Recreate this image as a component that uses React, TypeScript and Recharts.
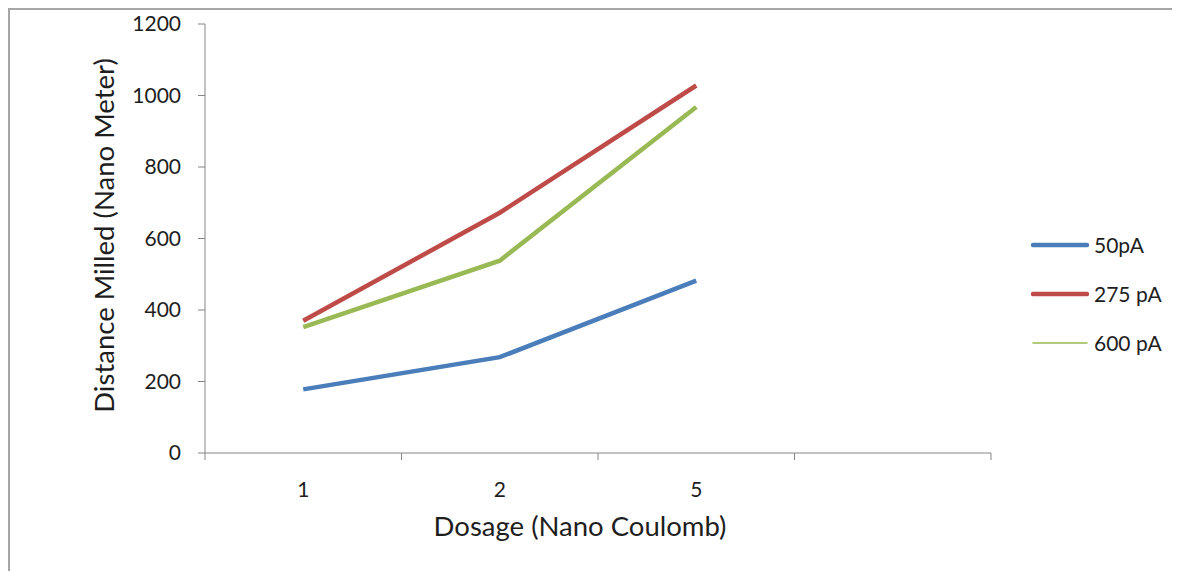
import React from "react";
import { LineChart, Line, XAxis, YAxis, Legend, Label } from "recharts";

const categories = ["1", "2", "5", ""];
const yTicks = [0, 200, 400, 600, 800, 1000, 1200];
const pa50 = [178, 268, 482];
const pa275 = [370, 672, 1028];
const pa600 = [352, 538, 968];

const SERIES = [
    { key: "pa50", name: "50pA", color: "#4a7ebb", width: 4.5, legendWidth: 4.5 },
    { key: "pa275", name: "275 pA", color: "#be4b48", width: 4.5, legendWidth: 4.5 },
    { key: "pa600", name: "600 pA", color: "#98b954", width: 4.5, legendWidth: 1.5 },
];

const data = categories.map((c, i) => ({
    pos: i + 0.5,
    cat: c,
    pa50: pa50[i] ?? null,
    pa275: pa275[i] ?? null,
    pa600: pa600[i] ?? null,
}));

const FONT = "Lato, 'Open Sans', sans-serif";
const AXIS = "#868686";
const TEXT = "#1e1e1e";
const slots = categories.map((_, i) => i).concat(categories.length);
const labelTicks = categories.map((_, i) => i + 0.5);

function LegendBox() {
    return (
        <div style={{ fontFamily: FONT, fontSize: 21, color: TEXT }}>
            {SERIES.map((s) => (
                <div key={s.key} style={{ display: "flex", alignItems: "center", height: 49, whiteSpace: "nowrap" }}>
                    <svg width={58} height={10} style={{ marginRight: 5 }}>
                        <line x1={2} x2={56} y1={5} y2={5} stroke={s.color} strokeWidth={s.legendWidth} strokeLinecap="round" />
                    </svg>
                    <span>{s.name}</span>
                </div>
            ))}
        </div>
    );
}

export default function App() {
    return (
        <div style={{ width: 1172, height: 563, overflow: "hidden" }}>
            <style>{"html,body{overflow:hidden;background:#fff}"}</style>
            <div style={{ width: 1250, height: 600, borderTop: "2px solid #a6a6a6", borderLeft: "2px solid #a6a6a6", background: "#fff" }}>
                <LineChart width={1170} height={561} data={data} margin={{ top: 14, right: 189, left: 85, bottom: 30 }}>
                    <XAxis
                        xAxisId="grid"
                        dataKey="pos"
                        type="number"
                        domain={[0, categories.length]}
                        ticks={slots}
                        interval={0}
                        tickFormatter={() => ""}
                        height={8}
                        stroke={AXIS}
                        tickSize={7}
                    />
                    <XAxis
                        xAxisId="label"
                        dataKey="pos"
                        type="number"
                        domain={[0, categories.length]}
                        ticks={labelTicks}
                        interval={0}
                        tickFormatter={(v: number) => categories[Math.floor(v)]}
                        height={80}
                        axisLine={false}
                        tickLine={false}
                        tickSize={0}
                        tickMargin={21}
                        tick={{ fill: TEXT, fontSize: 21, fontFamily: FONT }}
                    >
                        <Label value="Dosage (Nano Coulomb)" position="insideBottom" offset={5} dx={-18} fill={TEXT} fontSize={27.5} fontFamily={FONT} />
                    </XAxis>
                    <YAxis
                        type="number"
                        domain={[0, 1200]}
                        ticks={yTicks}
                        interval={0}
                        width={110}
                        stroke={AXIS}
                        tickSize={7}
                        tickMargin={17}
                        tick={{ fill: TEXT, fontSize: 21, fontFamily: FONT }}
                    >
                        <Label value="Distance Milled (Nano Meter)" position="center" angle={-90} dx={-46} dy={-3} fill={TEXT} fontSize={27.5} fontFamily={FONT} />
                    </YAxis>
                    <Legend
                        layout="vertical"
                        align="center"
                        verticalAlign="middle"
                        content={() => <LegendBox />}
                        wrapperStyle={{ left: 1021, top: 210, width: 140 }}
                    />
                    {SERIES.map((s) => (
                        <Line
                            key={s.key}
                            xAxisId="grid"
                            type="linear"
                            dataKey={s.key}
                            name={s.name}
                            stroke={s.color}
                            strokeWidth={s.width}
                            dot={false}
                            activeDot={false}
                            isAnimationActive={false}
                        />
                    ))}
                </LineChart>
            </div>
        </div>
    );
}
